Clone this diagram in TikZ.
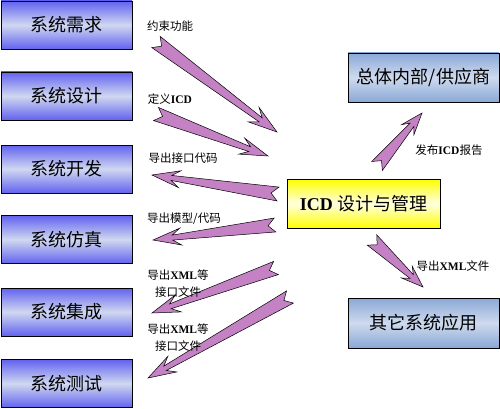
\documentclass[tikz,border=0pt]{standalone}
\usepackage{fontspec}
\setmainfont{Liberation Serif}
\newfontfamily\cjk{Noto Sans CJK SC}
\usetikzlibrary{calc}
\definecolor{boxblue}{RGB}{98,98,240}
\definecolor{boxmid}{RGB}{208,216,240}
\definecolor{sblue}{RGB}{138,168,214}
\definecolor{smid}{RGB}{206,218,238}
\definecolor{yel}{RGB}{255,255,0}
\definecolor{yelmid}{RGB}{255,255,225}
\definecolor{arrowfill}{RGB}{196,130,196}
\tikzset{
  leftbox/.style={draw=black, line width=0.9pt, minimum width=131pt, minimum height=48pt,
    top color=boxblue, bottom color=boxblue, middle color=boxmid, inner sep=0pt,
    font=\cjk\fontsize{18}{20}\selectfont},
  rightbox/.style={draw=black, line width=0.9pt, minimum width=151pt, minimum height=49pt,
    top color=sblue, bottom color=sblue, middle color=smid, inner sep=0pt,
    font=\cjk\fontsize{18}{20}\selectfont},
  icdbox/.style={draw=black, line width=0.9pt, minimum width=153pt, minimum height=49pt,
    top color=yel, bottom color=yel, middle color=yelmid, inner sep=0pt,
    font=\cjk\fontsize{18}{20}\selectfont},
  lbl/.style={inner sep=0pt, font=\cjk\fontsize{11.5}{17}\selectfont, align=center},
  fatarrow/.style={fill=arrowfill, draw=black, line width=0.5pt, line join=miter},
}
% #1 tail, #2 tip, #3 head length, #4 barb half width
\newcommand\notcharrow[4]{%
  \path[fatarrow] let \p1=($(#2)-(#1)$), \n1={atan2(\y1,\x1)}, \n2={veclen(\x1,\y1)} in
    [shift={(#1)}, rotate=\n1]
    (0pt,7pt) -- (7pt,0pt) -- (0pt,-7pt)
    -- ({\n2*1pt-#3+0.3*#3},-2.5pt) -- ({\n2*1pt-#3},-#4) -- ({\n2*1pt},0pt)
    -- ({\n2*1pt-#3},#4) -- ({\n2*1pt-#3+0.3*#3},2.5pt) -- cycle;
}
\begin{document}
\begin{tikzpicture}[x=1pt,y=-1pt]
\useasboundingbox (0,0) rectangle (500,409);
% boxes
\node[leftbox] (req) at (66.5,25) {系统需求};
\node[leftbox] (des) at (66.5,96) {系统设计};
\node[leftbox] (dev) at (66.5,169) {系统开发};
\node[leftbox] (sim) at (66.5,239.5) {系统仿真};
\node[leftbox] (int) at (66.5,312) {系统集成};
\node[leftbox] (tst) at (66.5,383.5) {系统测试};
\node[rightbox] (sup) at (423.5,77.5) {总体内部/供应商};
\node[rightbox, minimum height=50pt] (oth) at (423.5,323) {其它系统应用};
\node[icdbox] (icd) at (363.5,203.5) {{\rmfamily\bfseries ICD} 设计与管理};
% arrow end points
\coordinate (a1s) at (156,42);  \coordinate (a1e) at (277,132);
\coordinate (a2s) at (156,114); \coordinate (a2e) at (268,156);
\coordinate (a3s) at (278,194); \coordinate (a3e) at (152,175);
\coordinate (a4s) at (275,225); \coordinate (a4e) at (153,240);
\coordinate (a5s) at (276,268); \coordinate (a5e) at (152,313);
\coordinate (a6s) at (290,297); \coordinate (a6e) at (148,378);
\coordinate (a7s) at (377,166); \coordinate (a7e) at (422,113);
\coordinate (a8s) at (372,240); \coordinate (a8e) at (423,287);
\notcharrow{a1s}{a1e}{29pt}{9pt}
\notcharrow{a2s}{a2e}{28pt}{8.5pt}
\notcharrow{a3s}{a3e}{28pt}{8.5pt}
\notcharrow{a4s}{a4e}{28pt}{8.5pt}
\notcharrow{a5s}{a5e}{28pt}{9pt}
\notcharrow{a6s}{a6e}{28pt}{9pt}
\notcharrow{a7s}{a7e}{22pt}{8pt}
\notcharrow{a8s}{a8e}{22pt}{8pt}
% labels
\node[lbl] (l1) at (170,26) {约束功能};
\node[lbl] (l2) at (170,99) {定义{\rmfamily\bfseries ICD}};
\node[lbl] (l3) at (183,158) {导出接口代码};
\node[lbl] (l4) at (184,219) {导出模型/代码};
\node[lbl] (l5) at (178,283.5) {导出{\rmfamily\bfseries XML}等\\接口文件};
\node[lbl] (l6) at (178,338) {导出{\rmfamily\bfseries XML}等\\接口文件};
\node[lbl] (l7) at (449,150) {发布{\rmfamily\bfseries ICD}报告};
\node[lbl] (l8) at (453,266) {导出{\rmfamily\bfseries XML}文件};
\end{tikzpicture}
\end{document}
